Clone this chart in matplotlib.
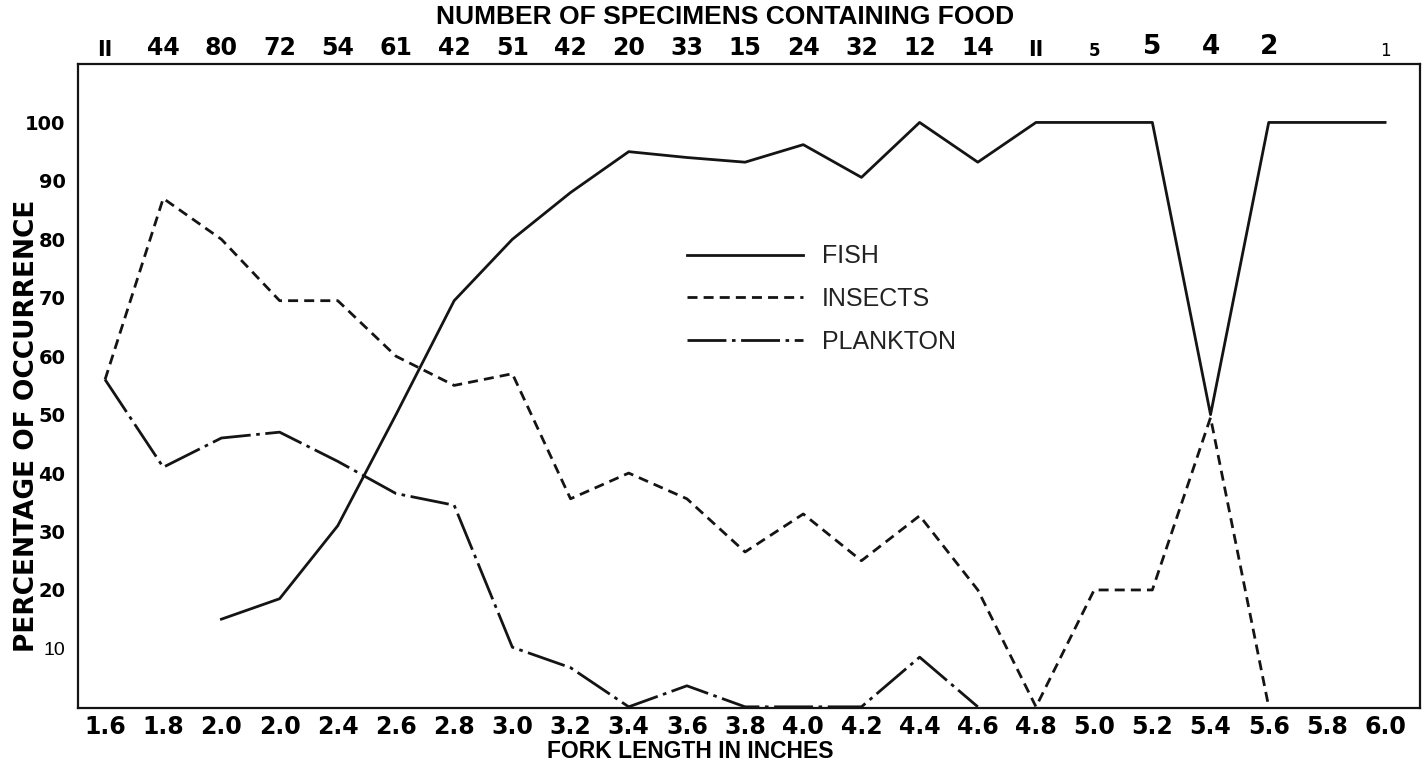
import matplotlib
matplotlib.use('Agg')
import matplotlib.pyplot as plt
from matplotlib.lines import Line2D

# fork length classes (inches)
lengths = [1.6, 1.8, 2.0, 2.2, 2.4, 2.6, 2.8, 3.0, 3.2, 3.4, 3.6, 3.8,
           4.0, 4.2, 4.4, 4.6, 4.8, 5.0, 5.2, 5.4, 5.6, 5.8, 6.0]
tick_labels = ["1.6", "1.8", "2.0", "2.0", "2.4", "2.6", "2.8", "3.0", "3.2",
               "3.4", "3.6", "3.8", "4.0", "4.2", "4.4", "4.6", "4.8", "5.0",
               "5.2", "5.4", "5.6", "5.8", "6.0"]

# percentage of occurrence
fish_x = lengths[2:]
fish = [15, 18.5, 31, 50, 69.5, 80, 88, 95, 94, 93.2, 96.2, 90.6, 100,
        93.2, 100, 100, 100, 50, 100, 100, 100]
insects_x = lengths[:21]
insects = [56, 87, 80, 69.5, 69.5, 60, 55, 57, 35.6, 40, 35.6, 26.5, 33,
           25, 32.7, 20, 0, 20, 20, 49.5, 0]
plankton_x = lengths[:16]
plankton = [56, 41, 46, 47, 42, 36.5, 34.5, 10.2, 6.7, 0, 3.6, 0, 0, 0,
            8.5, 0]

# number of specimens containing food
count_x = lengths[:21] + [6.0]
counts = ["II", "44", "80", "72", "54", "61", "42", "51", "42", "20", "33",
          "15", "24", "32", "12", "14", "II", "5", "5", "4", "2", "1"]
# the last few counts are printed in a different size in the original
count_sizes = [15] + [17] * 15 + [15, 12, 19, 19, 19, 12]

y_ticks = [10, 20, 30, 40, 50, 60, 70, 80, 90, 100]

INK = '#141414'
INSECT_DASH = (0, (3.6, 2.2))
PLANKTON_DASH = (0, (14, 2, 1.3, 2))

fig = plt.figure(figsize=(14.22, 7.70), dpi=100)
fig.patch.set_facecolor('white')
ax = fig.add_axes([78 / 1422, 62 / 770, 1342 / 1422, 644 / 770])

ax.plot(fish_x, fish, color=INK, lw=2.0, clip_on=False)
ax.plot(insects_x, insects, color=INK, lw=2.0, ls=INSECT_DASH, clip_on=False)
ax.plot(plankton_x, plankton, color=INK, lw=2.0, ls=PLANKTON_DASH, clip_on=False)

ax.set_xlim(1.507, 6.12)
ax.set_ylim(-0.2, 110)

# axes styling
for sp in ax.spines.values():
    sp.set_color(INK)
    sp.set_linewidth(1.6)
ax.tick_params(length=0)
ax.set_xticks(lengths)
ax.set_xticklabels(tick_labels, family='DejaVu Sans', fontweight='bold',
                   fontsize=17, color='black')
ax.tick_params(axis='x', pad=5)
ax.set_yticks(y_ticks)
ax.set_yticklabels([str(v) for v in y_ticks], family='DejaVu Sans',
                   fontweight='bold', fontsize=14, color='black')
ax.tick_params(axis='y', pad=9)
ylab = ax.get_yticklabels()[0]
ylab.set_fontweight('normal')
ylab.set_family('Liberation Sans')

# specimen counts above the frame
for x, c, s in zip(count_x, counts, count_sizes):
    weight = 'normal' if c == "1" else 'bold'
    ax.text(x, 1.006, c, transform=ax.get_xaxis_transform(), ha='center',
            va='bottom', fontsize=s, fontweight=weight,
            family='DejaVu Sans', color='black')

# legend
handles = [
    Line2D([], [], color=INK, lw=2.0),
    Line2D([], [], color=INK, lw=2.0, ls=INSECT_DASH),
    Line2D([], [], color=INK, lw=2.0, ls=PLANKTON_DASH),
]
leg = ax.legend(handles, ["FISH", "INSECTS", "PLANKTON"], loc='upper left',
                bbox_to_anchor=(0.4538, 0.72), frameon=False, borderpad=0,
                borderaxespad=0, handlelength=4.64, handletextpad=0.76,
                labelspacing=0.75,
                prop={'family': 'Liberation Sans', 'size': 18})
for t in leg.get_texts():
    t.set_color('#222222')

# titles
fig.text(725 / 1422, 1 - 17 / 770, "NUMBER OF SPECIMENS CONTAINING FOOD",
         ha='center', va='center', family='Liberation Sans',
         fontweight='bold', fontsize=19)
fig.text(690 / 1422, 1 - 752 / 770, "FORK LENGTH IN INCHES", ha='center',
         va='center', family='Liberation Sans', fontweight='bold',
         fontsize=16.5)
fig.text(27 / 1422, 1 - 426 / 770, "PERCENTAGE OF OCCURRENCE", rotation=90,
         ha='center', va='center', family='DejaVu Sans', fontweight='bold',
         fontsize=19)

fig.savefig('out.png', dpi=100, facecolor='white')
plt.close(fig)
